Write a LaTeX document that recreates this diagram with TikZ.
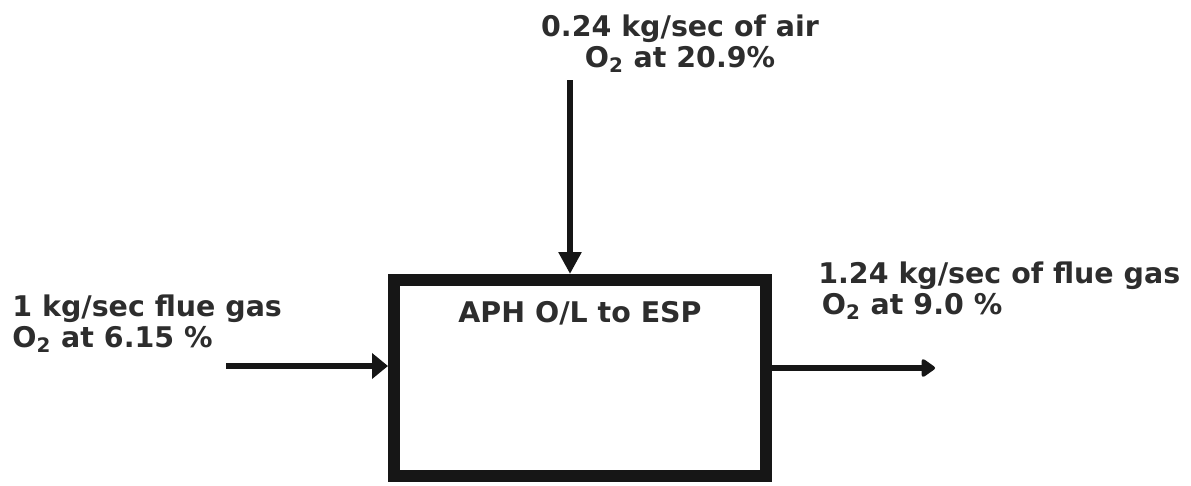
\documentclass[tikz,border=0pt]{standalone}
\usepackage{fontspec}
\setmainfont{DejaVu Sans}
\usetikzlibrary{arrows.meta,positioning}
\definecolor{txtcol}{RGB}{45,45,45}
\definecolor{linecol}{RGB}{22,22,22}

\begin{document}
\begin{tikzpicture}[>={Triangle[length=0.44cm,width=0.44cm]},
  lbl/.style={inner sep=0,text=txtcol,font=\bfseries\fontsize{16.2}{17.6}\selectfont},
  flow/.style={->,line width=0.13cm,draw=linecol}]
\useasboundingbox (0,0) rectangle (23.82,-9.70);
\node[draw=linecol,line width=0.24cm,minimum width=7.44cm,minimum height=3.92cm]
  (aph) at (11.60,-7.56) {};
\node[lbl,below=0.54cm of aph.north] (aphtxt) {APH O/L to ESP};
% streams in and out
\coordinate (airin) at (11.40,-1.60);
\coordinate (flin) at (4.52,-7.32);
\coordinate (flout) at (18.70,-7.36);
\draw[flow] (airin) -- (airin |- aph.north);
\draw[flow,-{Triangle[length=0.32cm,width=0.5cm]}] (flin) -- (aph.west |- flin);
\draw[flow,-{Triangle[length=0.3cm,width=0.4cm,round]}] (aph.east |- flout) -- (flout);
% stream labels
\node[lbl,align=center,anchor=north] (airtxt) at (13.60,-0.30)
  {0.24 kg/sec of air\\ O\textsubscript{2} at 20.9\%};
\node[lbl,align=left,anchor=north west] (flintxt) at (0.24,-5.90)
  {1 kg/sec flue gas\\ O\textsubscript{2} at 6.15 \%};
\node[lbl,align=left,anchor=north west] (flouttxt) at (16.36,-5.24)
  {1.24 kg/sec of flue gas\\ \hspace{2pt}O\textsubscript{2} at 9.0 \%};
\end{tikzpicture}
\end{document}
